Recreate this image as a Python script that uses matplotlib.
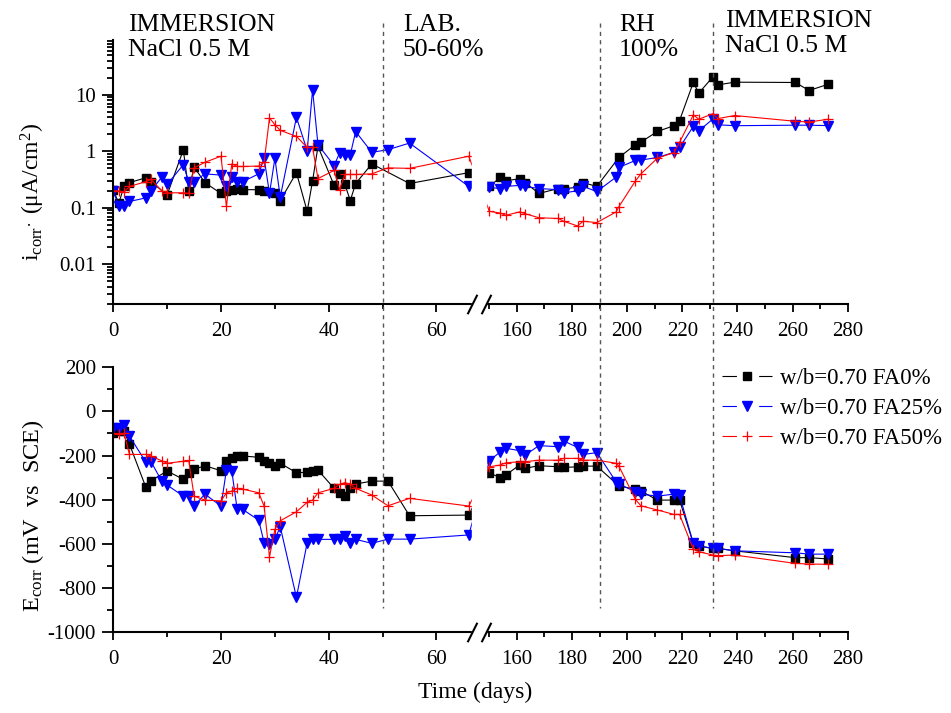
import numpy as np
import matplotlib
matplotlib.use("Agg")
import matplotlib.pyplot as plt
from matplotlib.ticker import FixedLocator, LogLocator, MultipleLocator, NullFormatter, FuncFormatter
from matplotlib.transforms import blended_transform_factory
from matplotlib.lines import Line2D

plt.rcParams['font.family'] = ['Liberation Serif', 'DejaVu Serif']
plt.rcParams['mathtext.fontset'] = 'custom'
plt.rcParams['mathtext.rm'] = 'Liberation Serif'
plt.rcParams['mathtext.it'] = 'Liberation Serif:italic'
plt.rcParams['axes.unicode_minus'] = False

# ---- data ----
# i_corr (uA/cm2)
icorr_fa0_days = [0, 1, 2, 3, 6, 7, 10, 13, 14, 15, 17, 20, 21, 22, 23, 24, 27, 28, 30, 31,
                  34, 36, 37, 38, 41, 42, 43, 44, 45, 48, 55, 66,
                  150, 154, 156, 161, 163, 168, 175, 177, 182, 184, 189, 197, 203, 205, 211,
                  217, 219, 224, 226, 231, 233, 239, 261, 266, 273]
icorr_fa0 = [0.21, 0.12, 0.24, 0.28, 0.34, 0.29, 0.17, 1.06, 0.2, 0.53, 0.28, 0.18, 0.2, 0.21,
             0.22, 0.21, 0.21, 0.2, 0.18, 0.135, 0.42, 0.087, 0.3, 1.22, 0.25, 0.4, 0.26, 0.135,
             0.27, 0.6, 0.27, 0.42,
             0.24, 0.345, 0.3, 0.33, 0.28, 0.18, 0.22, 0.22, 0.23, 0.28, 0.24, 0.78, 1.31, 1.46,
             2.25, 2.84, 3.5, 16.5, 10.7, 20.5, 15, 16.7, 16.5, 11.9, 15.4]

days_fa = [0, 1, 2, 3, 6, 7, 9, 10, 13, 14, 15, 17, 20, 21, 22, 23, 24, 27, 28, 29, 30, 31,
           34, 36, 37, 38, 41, 42, 43, 44, 45, 48, 51, 55, 66,
           150, 154, 156, 161, 163, 168, 175, 177, 182, 184, 189, 196, 197, 203, 205, 211,
           217, 219, 224, 226, 231, 233, 239, 261, 266, 273]
icorr_fa25 = [0.2, 0.107, 0.11, 0.13, 0.15, 0.2, 0.35, 0.26, 0.58, 0.29, 0.29, 0.4, 0.38, 0.24,
              0.35, 0.29, 0.29, 0.4, 0.76, 0.18, 0.75, 0.155, 4.0, 1.03, 12.2, 1.31, 0.56, 0.93,
              0.87, 0.87, 2.24, 0.96, 1.07, 1.4, 0.24,
              0.23, 0.22, 0.24, 0.25, 0.24, 0.22, 0.21, 0.185, 0.2, 0.24, 0.195, 0.35, 0.52,
              0.69, 0.7, 0.78, 0.96, 1.17, 2.76, 2.3, 3.7, 2.95, 2.84, 2.9, 2.9, 2.85]
icorr_fa50 = [0.2, 0.2, 0.19, 0.24, 0.29, 0.32, 0.2, 0.185, 0.185, 0.18, 0.51, 0.64, 0.82, 0.107,
              0.6, 0.54, 0.54, 0.55, 0.64, 3.9, 2.95, 2.35, 1.84, 1.17, 1.17, 0.33, 0.46, 0.21,
              0.39, 0.39, 0.39, 0.4, 0.51, 0.5, 0.82,
              0.087, 0.081, 0.074, 0.085, 0.079, 0.067, 0.065, 0.058, 0.048, 0.058, 0.055,
              0.085, 0.105, 0.3, 0.4, 0.76, 0.95, 1.44, 4.4, 3.7, 4.6, 3.8, 4.3, 3.4, 3.3, 3.7]

# E_corr (mV vs SCE)
ecorr_fa0_days = [0, 1, 2, 3, 6, 7, 10, 13, 14, 15, 17, 20, 21, 22, 23, 24, 27, 28, 29, 30, 31,
                  34, 36, 37, 38, 41, 42, 43, 44, 45, 48, 51, 55, 66,
                  150, 154, 156, 161, 163, 168, 175, 177, 182, 184, 189, 197, 203, 205, 211,
                  217, 219, 224, 226, 231, 233, 239, 261, 266, 273]
ecorr_fa0 = [-100, -90, -90, -148, -341, -314, -270, -308, -278, -263, -246, -269, -224, -213,
             -202, -202, -208, -224, -233, -246, -235, -278, -276, -270, -266, -349, -371, -384,
             -349, -329, -316, -316, -473, -470,
             -278, -301, -288, -243, -258, -246, -251, -254, -251, -248, -248, -338, -353, -361,
             -402, -402, -402, -598, -610, -621, -621, -632, -663, -663, -669]
ecorr_fa25 = [-75, -75, -60, -112, -228, -228, -316, -334, -384, -384, -429, -375, -429, -266,
              -270, -444, -444, -493, -595, -603, -580, -523, -843, -595, -580, -580, -580, -580,
              -564, -595, -580, -598, -579, -579, -560,
              -224, -183, -167, -178, -198, -155, -160, -134, -163, -195, -187, -319, -329, -364,
              -375, -384, -375, -380, -598, -610, -621, -621, -632, -641, -647, -647]
ecorr_fa50 = [-100, -102, -99, -195, -195, -202, -224, -235, -226, -222, -384, -402, -406, -369,
              -361, -349, -352, -369, -429, -659, -535, -496, -455, -412, -402, -369, -349, -331,
              -323, -330, -349, -379, -428, -394, -429,
              -251, -243, -233, -228, -228, -221, -221, -213, -213, -221, -221, -235, -248, -399,
              -428, -447, -467, -467, -625, -636, -651, -654, -651, -689, -692, -693]

labels = ["w/b=0.70 FA0%", "w/b=0.70 FA25%", "w/b=0.70 FA50%"]
phase_days = [50, 190, 231]
phase_texts = ["IMMERSION\nNaCl 0.5 M", "LAB.\n50-60%", "RH\n100%", "IMMERSION\nNaCl 0.5 M"]

# ---- broken time axis (0-66 days stretched, 149-280 compressed) ----
BREAK_DAYS = [0, 66.6, 148.8, 280]
BREAK_UNITS = [0, 358.7, 372.7, 734.4]


def fwd(d):
    return np.interp(d, BREAK_DAYS, BREAK_UNITS)


def inv(u):
    return np.interp(u, BREAK_UNITS, BREAK_DAYS)


W, H = 951, 713
fig = plt.figure(figsize=(W / 100, H / 100), dpi=100)


def px_rect(x0, y0, x1, y1):
    return [x0 / W, 1 - y1 / H, (x1 - x0) / W, (y1 - y0) / H]


ax1 = fig.add_axes(px_rect(113.3, 40, 847.7, 304))
ax2 = fig.add_axes(px_rect(113.3, 367.3, 847.7, 632))

series_style = [
    dict(color='black', marker='s', ms=5.3),
    dict(color='blue', marker='v', ms=6.5),
    dict(color='red', marker='+', ms=7, mew=0.9),
]

ax1.plot(icorr_fa0_days, icorr_fa0, lw=0.8, **series_style[0])
ax1.plot(days_fa, icorr_fa25, lw=0.8, **series_style[1])
ax1.plot(days_fa, icorr_fa50, lw=0.8, **series_style[2])

ax2.plot(ecorr_fa0_days, ecorr_fa0, lw=0.8, **series_style[0])
ax2.plot(days_fa, ecorr_fa25, lw=0.8, **series_style[1])
ax2.plot(days_fa, ecorr_fa50, lw=0.8, **series_style[2])

ax1.set_yscale('log')
ax1.set_ylim(0.002, 93)
ax1.yaxis.set_major_locator(FixedLocator([0.01, 0.1, 1, 10]))
ax1.yaxis.set_major_formatter(FuncFormatter(lambda v, p: f"{v:g}"))
ax1.yaxis.set_minor_locator(LogLocator(base=10, subs=np.arange(2, 10)))
ax1.yaxis.set_minor_formatter(NullFormatter())

ax2.set_ylim(-1000, 200)
ax2.yaxis.set_major_locator(MultipleLocator(200))
ax2.yaxis.set_minor_locator(MultipleLocator(100))

for ax in (ax1, ax2):
    ax.set_xscale('function', functions=(fwd, inv))
    ax.set_xlim(0, 280)
    ax.xaxis.set_major_locator(FixedLocator([0, 20, 40, 60, 160, 180, 200, 220, 240, 260, 280]))
    ax.xaxis.set_major_formatter(FuncFormatter(lambda v, p: f"{v:g}"))
    ax.xaxis.set_minor_locator(FixedLocator([10, 30, 50, 150, 170, 190, 210, 230, 250, 270]))
    ax.spines['top'].set_visible(False)
    ax.spines['right'].set_visible(False)
    for s in ('left', 'bottom'):
        ax.spines[s].set_linewidth(1.5)
    ax.tick_params(axis='both', which='both', direction='out', width=1.3, labelsize=15)
    ax.tick_params(axis='y', which='major', length=8, pad=4.5)
    ax.tick_params(axis='y', which='minor', length=4)
    ax.tick_params(axis='x', which='major', length=6, pad=7)
    ax.tick_params(axis='x', which='minor', length=3.6)
    ax.patch.set_visible(False)

    # axis break: white gap plus two slashes
    ax.axvspan(66.6, 148.8, ymin=-0.03, ymax=1, color='white', zorder=3, clip_on=False)
    trans = blended_transform_factory(ax.transData, ax.transAxes)
    ax.plot([66.6, 148.8], [0, 0], transform=trans, ls='none',
            marker=[(-0.5, -1), (0.5, 1)], ms=14, mew=1.5, mec='black',
            clip_on=False, zorder=4)

# dotted phase separators, spanning both panels
vtrans = blended_transform_factory(ax1.transData, fig.transFigure)
for d in phase_days:
    fig.add_artist(Line2D([d, d], [1 - 23 / H, 1 - 608 / H], transform=vtrans,
                          color='#555555', lw=1, ls=(0, (3, 3))))

# phase labels
text_pos = [(128, 14), (403, 14), (619, 14), (725, 10)]
for (tx, ty), t in zip(text_pos, phase_texts):
    fig.text(tx / W, 1 - ty / H, t, fontsize=18.5, ha='left', va='top', linespacing=1.15)

fig.text(33 / W, 1 - 192 / H, r'i$_{\mathrm{corr}}$$^{.}$ (μA/cm$^{2}$)', fontsize=17,
         rotation=90, ha='center', va='center')
fig.text(33 / W, 1 - 516 / H, r'E$_{\mathrm{corr}}$ (mV  vs  SCE)', fontsize=17.5,
         rotation=90, ha='center', va='center')
fig.text(475 / W, 1 - 692 / H, 'Time (days)', fontsize=17, ha='center', va='center')

# legend handles: line - symbol - line, with gaps around the symbol
handles = [Line2D([], [], lw=0.8, ls=(0, (13, 20)), **st) for st in series_style]
ax2.legend(handles, labels, loc='upper left', bbox_to_anchor=(722 / W, 1 - 368 / H),
           bbox_transform=fig.transFigure, frameon=False, fontsize=16.5,
           handlelength=2.2, handletextpad=0.35, labelspacing=0.38,
           borderpad=0, borderaxespad=0)

fig.savefig('out.png', dpi=100)
